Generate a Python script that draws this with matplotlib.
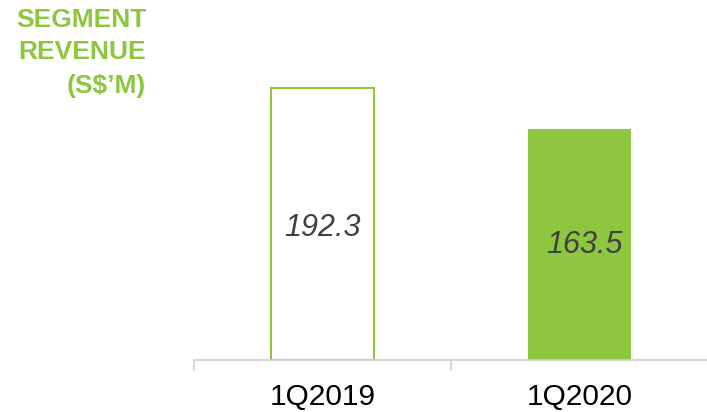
import matplotlib
matplotlib.use("Agg")
import matplotlib.pyplot as plt

categories = ["1Q2019", "1Q2020"]
values = [192.3, 163.5]
value_labels = ["192.3", "163.5"]

green = "#8DC63F"
plt.rcParams['font.family'] = ['Liberation Sans', 'DejaVu Sans']

fig = plt.figure(figsize=(7.07, 4.12), dpi=100)
ax = fig.add_axes([194/707, 1 - 360/412, 514/707, 360/412])
ax.set_xlim(-0.5, 1.5)
ax.set_ylim(0, 360/1.4145)

x = list(range(len(categories)))
ax.bar(x[0], values[0], width=0.4, facecolor="white", edgecolor=green, linewidth=1.5)
ax.bar(x[1], values[1], width=0.4, facecolor=green, edgecolor=green, linewidth=0)

ax.text(x[0], 93, value_labels[0], ha="center", va="center", fontsize=22,
        style="italic", color="#404040")
ax.text(x[1] + 0.02, 81, value_labels[1], ha="center", va="center", fontsize=22,
        style="italic", color="#404040")

for s in ["top", "right", "left"]:
    ax.spines[s].set_visible(False)
ax.spines["bottom"].set_color("#d0d0d0")
ax.spines["bottom"].set_linewidth(1.2)
ax.set_yticks([])
ax.set_xticks([-0.5, 0.5, 1.5], minor=False)
ax.set_xticklabels(["", "", ""])
ax.tick_params(axis="x", length=8, width=1.2, color="#d0d0d0")
for xi, c in zip(x, categories):
    ax.text(xi, -0.103, c, transform=ax.get_xaxis_transform(), ha="center", va="center",
            fontsize=21.5, color="#000000")

fig.text(146/707, 1 - 20/412, "SEGMENT", ha="right", va="center", fontsize=19,
         fontweight="bold", color=green)
fig.text(146/707, 1 - 52/412, "REVENUE", ha="right", va="center", fontsize=19,
         fontweight="bold", color=green)
fig.text(146/707, 1 - 86/412, "(S$\u2019M)", ha="right", va="center", fontsize=19,
         fontweight="bold", color=green)

fig.savefig("out.png", dpi=100)
